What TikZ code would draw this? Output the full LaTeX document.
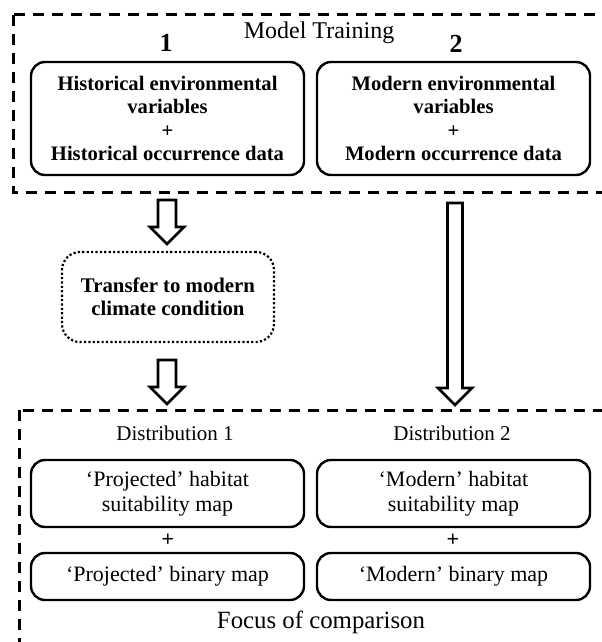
\documentclass[tikz,border=0pt]{standalone}
\usepackage{fontspec}
\setmainfont{Liberation Serif}
\usetikzlibrary{calc}
\tikzset{
  frame/.style={draw,line width=1.5pt,dash pattern=on 5.5pt off 4pt},
  databox/.style={draw,line width=1.2pt,rounded corners=7pt,minimum width=136.5pt,
    align=center,inner sep=0pt,font=\fontsize{10.3}{11.7}\selectfont\bfseries},
  mapbox/.style={draw,line width=1.2pt,rounded corners=7pt,minimum width=136.5pt,
    align=center,inner sep=0pt,font=\fontsize{11}{12.5}\selectfont},
  hollow/.style={draw,line width=1.3pt,line join=miter,
    to path={let \p1=(\tikztostart), \p2=(\tikztotarget) in
      (\x1-#1,\y1) -- (\x1-#1,\y2+8.5pt) -- (\x1-8.5pt,\y2+8.5pt) -- (\x2,\y2)
      -- (\x1+8.5pt,\y2+8.5pt) -- (\x1+#1,\y2+8.5pt) -- (\x1+#1,\y1) -- cycle}},
}
\begin{document}
\begin{tikzpicture}[x=0.5pt,y=-0.5pt]
\useasboundingbox (0,0) rectangle (601,642);
% dashed frames
\draw[frame] (13,15) rectangle (640,192);
\draw[frame] (19,410) rectangle (640,680);
% model training
\node[font=\fontsize{12}{14}\selectfont] (train) at (319,33) {Model Training};
\node[font=\fontsize{13}{15}\selectfont\bfseries] (n1) at (166,43) {1};
\node[font=\fontsize{13}{15}\selectfont\bfseries] (n2) at (456,44) {2};
\node[databox,minimum height=56.5pt] (hist) at (167.5,118.5)
  {Historical environmental\\variables\\+\\Historical occurrence data};
\node[databox,minimum height=56.5pt] (modern) at (453.5,118.5)
  {Modern environmental\\variables\\+\\Modern occurrence data};
\node[draw,line width=1.1pt,dash pattern=on 1.1pt off 1.1pt,rounded corners=9pt,
  minimum width=106pt,minimum height=45pt,align=center,
  font=\fontsize{10.4}{11.5}\selectfont\bfseries] (transfer) at (168,297)
  {Transfer to modern\\climate condition};
% focus of comparison
\node[font=\fontsize{10.5}{12}\selectfont] (d1) at (175,433) {Distribution 1};
\node[font=\fontsize{10.5}{12}\selectfont] (d2) at (452,433) {Distribution 2};
\node[mapbox,minimum height=33.5pt] (proj) at (167.5,493.5) {‘Projected’ habitat\\suitability map};
\node[mapbox,minimum height=33.5pt] (mod) at (453.5,493.5) {‘Modern’ habitat\\suitability map};
\node[font=\fontsize{11}{12}\selectfont\bfseries] (p1) at (168,540) {+};
\node[font=\fontsize{11}{12}\selectfont\bfseries] (p2) at (453,540) {+};
\node[mapbox,minimum height=23.5pt] (projbin) at (167.5,576.5) {‘Projected’ binary map};
\node[mapbox,minimum height=23.5pt] (modbin) at (453.5,576.5) {‘Modern’ binary map};
\node[font=\fontsize{12.4}{14}\selectfont] (focus) at (321,622) {Focus of comparison};
% arrows
\coordinate (a1s) at (167,200);
\coordinate (a1e) at (167,244);
\coordinate (a2s) at (167,360);
\coordinate (a2e) at (167,404);
\coordinate (a3s) at (455,203);
\coordinate (a3e) at (455,405);
\draw[hollow=4.5pt] (a1s) to (a1e);
\draw[hollow=4.5pt] (a2s) to (a2e);
\draw[hollow=3.75pt] (a3s) to (a3e);
\end{tikzpicture}
\end{document}
